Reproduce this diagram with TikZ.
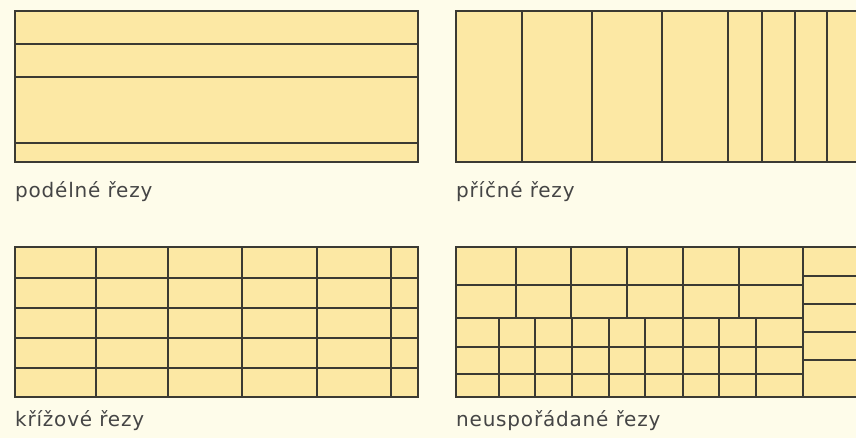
\documentclass[tikz,border=0pt]{standalone}
\usepackage{fontspec}
\setsansfont{DejaVu Sans}[LetterSpace=4]
\usetikzlibrary{positioning}
\definecolor{paper}{HTML}{FEFCEA}
\definecolor{wood}{HTML}{FCE8A4}
\definecolor{cutline}{HTML}{3B3A33}
\definecolor{captiongray}{HTML}{454545}

\begin{document}
\begin{tikzpicture}[x=1pt, y=-1pt,
  board/.style={fill=wood, draw=cutline, line width=1.8pt},
  cut/.style={draw=cutline, line width=1.3pt},
  caption/.style={anchor=base west, inner sep=0pt, text=captiongray,
    font=\sffamily\fontsize{20}{20}\selectfont}]
  \useasboundingbox (0,0) rectangle (856,438);
  \fill[paper] (0,0) rectangle (856,438);
  \clip (0,0) rectangle (856,438);

  % longitudinal cuts
  \draw[board] (15,11) rectangle (418,162);
  \foreach \y in {44,77,143}
    \draw[cut] (15,\y) -- (418,\y);
  \node[caption] (long) at (15,198) {podélné řezy};

  % cross cuts
  \draw[board] (456,11) rectangle (870,162);
  \foreach \x in {522,592,662,728,762,795,827}
    \draw[cut] (\x,11) -- (\x,162);
  \node[caption] (cross) at (456,198) {příčné řezy};

  % crosswise grid
  \draw[board] (15,247) rectangle (418,397);
  \foreach \y in {278,308,338,368}
    \draw[cut] (15,\y) -- (418,\y);
  \foreach \x in {96,168,242,317,391}
    \draw[cut] (\x,247) -- (\x,397);
  \node[caption] (grid) at (15,426) {křížové řezy};

  % irregular cuts
  \draw[board] (456,247) rectangle (870,397);
  \foreach \y in {285,318,347,374}
    \draw[cut] (456,\y) -- (803,\y);
  \foreach \x in {516,571,627,683,739}
    \draw[cut] (\x,247) -- (\x,318);
  \foreach \x in {499,535,572,609,645,683,719,756}
    \draw[cut] (\x,318) -- (\x,397);
  \draw[cut] (803,247) -- (803,397);
  \foreach \y in {276,304,332,360}
    \draw[cut] (803,\y) -- (870,\y);
  \node[caption] (mixed) at (456,426) {neuspořádané řezy};
\end{tikzpicture}
\end{document}
